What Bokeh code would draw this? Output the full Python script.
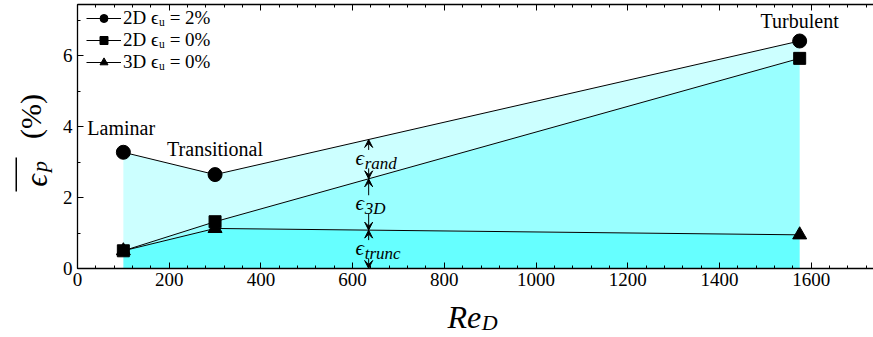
import numpy as np
from bokeh.plotting import figure
from bokeh.layouts import row, column
from bokeh.models import (Label, Arrow, VeeHead, Legend, LegendItem, LinearAxis,
                          Range1d, SingleIntervalTicker, BoxAnnotation, CustomJSTickFormatter)
from bokeh.embed import file_html
from bokeh.resources import INLINE

# ---------------- data ----------------
re_d = [100, 300, 1575]
eps_2d_u2 = [3.28, 2.65, 6.42]
eps_2d_u0 = [0.50, 1.32, 5.93]
eps_3d_u0 = [0.50, 1.13, 0.95]
series_labels = ["2D ϵᵤ = 2%", "2D ϵᵤ = 0%", "3D ϵᵤ = 0%"]
regime_labels = ["Laminar", "Transitional", "Turbulent"]
band_labels = ["trunc", "3D", "rand"]
annot_re = 635
x_max = 1736
y_max = 7.45

FONT = "Liberation Serif"
W, H = 873, 337
LEFT_W = 56          # strip holding the y title
BOTTOM_H = 37        # strip holding the x title
MAIN_W = W - LEFT_W
MAIN_H = H - BOTTOM_H

# ---------------- main plot ----------------
p = figure(width=MAIN_W, height=MAIN_H, x_range=Range1d(0, x_max), y_range=Range1d(0, y_max),
           output_backend="svg", toolbar_location=None,
           min_border_left=77 - LEFT_W, min_border_right=0, min_border_top=4, min_border_bottom=32)
p.xgrid.visible = False
p.ygrid.visible = False
p.outline_line_color = None
p.background_fill_color = "white"

p.xaxis.ticker = SingleIntervalTicker(interval=200, num_minor_ticks=5)
p.yaxis.ticker = SingleIntervalTicker(interval=2, num_minor_ticks=2)
for ax in (p.xaxis[0], p.yaxis[0]):
    ax.major_tick_in = 6
    ax.major_tick_out = 0
    ax.minor_tick_in = 3
    ax.minor_tick_out = 0
    ax.axis_line_width = 1.3
    ax.major_label_text_font = FONT
    ax.major_label_text_font_size = "19px"
    ax.major_label_text_color = "black"
    ax.axis_line_color = "black"
    ax.major_tick_line_color = "black"
    ax.minor_tick_line_color = "black"
p.xaxis.major_label_standoff = 4
p.yaxis.major_label_standoff = 5

top = LinearAxis(ticker=SingleIntervalTicker(interval=200, num_minor_ticks=5),
                 major_tick_in=6, major_tick_out=0, minor_tick_in=3, minor_tick_out=0,
                 formatter=CustomJSTickFormatter(code="return ''"),
                 major_label_standoff=0,
                 axis_line_width=1.3, axis_line_color="black")
p.add_layout(top, "above")

# ---------------- bands ----------------
zeros = [0] * len(re_d)
p.varea(x=re_d, y1=zeros, y2=eps_3d_u0, fill_color="#66ffff")
p.varea(x=re_d, y1=eps_3d_u0, y2=eps_2d_u0, fill_color="#99ffff")
p.varea(x=re_d, y1=eps_2d_u0, y2=eps_2d_u2, fill_color="#ccffff")

# ---------------- lines & markers ----------------
series = [eps_2d_u2, eps_2d_u0, eps_3d_u0]
markers = ["circle", "square", "triangle"]
sizes = [14, 12, 14]
items = []
for ys, mk, sz, lab in zip(series, markers, sizes, series_labels):
    lr = p.line(re_d, ys, line_color="black", line_width=1)
    sr = p.scatter(re_d, ys, marker=mk, size=sz, fill_color="black", line_color="black")
    items.append(LegendItem(label=lab, renderers=[lr, sr]))

legend = Legend(items=items, location=(9, 195), margin=0, padding=4,
                glyph_width=35, glyph_height=20, label_height=18, spacing=0,
                label_standoff=2, label_text_font=FONT, label_text_font_size="19px",
                label_text_line_height=0.95,
                label_text_color="black",
                background_fill_alpha=0, border_line_color=None)
p.add_layout(legend)

# ---------------- regime labels ----------------
reg_offsets = [(-36, 24, "left"), (0, 26, "center"), (0, 20, "center")]
for i, (txt, (dx, dy, al)) in enumerate(zip(regime_labels, reg_offsets)):
    p.add_layout(Label(x=re_d[i], y=eps_2d_u2[i], text=txt, x_offset=dx, y_offset=dy,
                       text_align=al, text_baseline="middle", text_font=FONT,
                       text_font_size="20px", text_color="black"))

# ---------------- error decomposition arrows ----------------
lv1 = float(np.interp(annot_re, re_d, eps_3d_u0))
lv2 = float(np.interp(annot_re, re_d, eps_2d_u0))
lv3 = float(np.interp(annot_re, re_d, eps_2d_u2))
levels = [0.0, lv1, lv2, lv3]
gap = 0.26
for k, sub in enumerate(band_labels):
    lo, hi = levels[k], levels[k + 1]
    mid = 0.5 * (lo + hi)
    p.add_layout(Arrow(x_start=annot_re, y_start=mid + gap, x_end=annot_re, y_end=hi,
                       line_width=1, line_color="black",
                       end=VeeHead(size=8, fill_color="black", line_color="black")))
    p.add_layout(Arrow(x_start=annot_re, y_start=mid - gap, x_end=annot_re, y_end=lo,
                       line_width=1, line_color="black",
                       end=VeeHead(size=8, fill_color="black", line_color="black")))
    p.add_layout(Label(x=annot_re, y=mid, text="ϵ", x_offset=-9, y_offset=1,
                       text_align="center", text_baseline="middle", text_font=FONT,
                       text_font_style="italic", text_font_size="21px", text_color="black"))
    p.add_layout(Label(x=annot_re, y=mid, text=sub, x_offset=-4, y_offset=-4,
                       text_align="left", text_baseline="middle", text_font=FONT,
                       text_font_style="italic", text_font_size="17px", text_color="black"))

# ---------------- title strips (pixel coordinate spaces) ----------------
def strip(w, h):
    f = figure(width=w, height=h, x_range=Range1d(0, w), y_range=Range1d(0, h),
               output_backend="svg", toolbar_location=None, min_border=0,
               x_axis_location=None, y_axis_location=None)
    f.grid.visible = False
    f.outline_line_color = None
    return f

def lab(f, text, x, y, size, style="italic", angle=0.0):
    f.add_layout(Label(x=x, y=y, text=text, angle=angle,
                       text_align="center", text_baseline="middle", text_font=FONT,
                       text_font_style=style, text_font_size=size, text_color="black"))

# y title: overline(eps_p) (%)
ly = strip(LEFT_W, H)
lab(ly, "ϵ", 36, H - 180, "31px", angle=np.pi / 2)
lab(ly, "p", 39, H - 166, "22px", angle=np.pi / 2)
lab(ly, "(%)", 30, H - 116, "30px", style="normal", angle=np.pi / 2)
ly.add_layout(BoxAnnotation(left=15, right=16.5, bottom=H - 191, top=H - 157,
                            fill_color="black", fill_alpha=1, line_color=None))

# x title: Re_D
bx = strip(MAIN_W, BOTTOM_H)
lab(bx, "Re", 453 - LEFT_W, H - 316, "32px")
lab(bx, "D", 479 - LEFT_W, H - 322, "22px")

layout = row(ly, column(p, bx, spacing=0), spacing=0)
open("out.html", "w").write(file_html(layout, INLINE))
